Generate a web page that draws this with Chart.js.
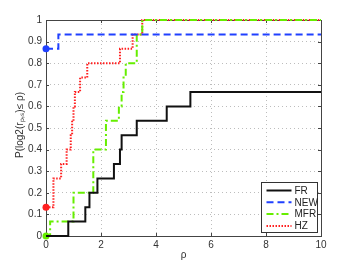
<!DOCTYPE html>
<html>
<head>
<meta charset="utf-8">
<script src="https://cdn.jsdelivr.net/npm/chart.js@4"></script>
<style>
html,body{margin:0;padding:0;background:#fff;}
canvas{display:block;}
</style>
</head>
<body>
<canvas id="c" width="354" height="266"></canvas>
<script>
// ---- data (step starting points: x = rho, y = fraction) ----
const seriesNames = ['FR', 'NEW', 'MFR', 'HZ'];
const frX  = [0, 0.81, 1.43, 1.58, 1.87, 2.47, 2.69, 2.75, 3.30, 4.39, 5.25, 10];
const frY  = [0, 0.0667, 0.1333, 0.2, 0.2667, 0.3333, 0.4, 0.4667, 0.5333, 0.6, 0.6667, 0.6667];
const newX = [0, 0.45, 10];
const newY = [0.8667, 0.9333, 0.9333];
const mfrX = [0, 0.15, 1.0, 1.72, 2.18, 2.65, 2.75, 2.82, 2.90, 3.30, 3.50, 10];
const mfrY = [0, 0.0667, 0.2, 0.4, 0.5333, 0.6, 0.6667, 0.7333, 0.8, 0.9333, 1.0, 1.0];
const hzX  = [0, 0.27, 0.55, 0.75, 0.90, 0.95, 1.00, 1.05, 1.24, 1.50, 2.69, 3.15, 3.50, 10];
const hzY  = [0.1333, 0.2667, 0.3333, 0.4, 0.4667, 0.5333, 0.6, 0.6667, 0.7333, 0.8, 0.8667, 0.9333, 1.0, 1.0];
const xTicks = [0, 2, 4, 6, 8, 10];
const yTicks = [0, 0.1, 0.2, 0.3, 0.4, 0.5, 0.6, 0.7, 0.8, 0.9, 1];
const xTitle = 'ρ';
const yTitle = 'P(log2(rₚ,ₛ)≤ ρ)';

const pts = (xs, ys) => xs.map((x, i) => ({x: x, y: ys[i]}));
const FONT = '"Liberation Sans", Arial, sans-serif';

function ds(label, xs, ys, color, dash, marker) {
  return {
    label: label,
    data: pts(xs, ys),
    borderColor: color,
    backgroundColor: color,
    borderWidth: 2,
    borderDash: dash,
    stepped: 'before',
    fill: false,
    pointRadius: ctx => (marker && ctx.dataIndex === 0) ? 3.5 : 0,
    pointHoverRadius: 0,
    pointBorderWidth: 0,
    pointBackgroundColor: color,
    clip: 4
  };
}

const frame = {
  id: 'frame',
  beforeDatasetsDraw(chart) {
    const {ctx, chartArea: a} = chart;
    const xs = chart.scales.x, ys = chart.scales.y;
    ctx.save();
    ctx.strokeStyle = '#444';
    ctx.lineWidth = 1;
    ctx.strokeRect(Math.round(a.left) + 0.5, Math.round(a.top) + 0.5,
                   Math.round(a.right - a.left), Math.round(a.bottom - a.top));
    ctx.beginPath();
    const L = 3;
    xTicks.forEach(v => {
      const p = Math.round(xs.getPixelForValue(v)) + 0.5;
      ctx.moveTo(p, a.bottom); ctx.lineTo(p, a.bottom - L);
      ctx.moveTo(p, a.top); ctx.lineTo(p, a.top + L);
    });
    yTicks.forEach(v => {
      const p = Math.round(ys.getPixelForValue(v)) + 0.5;
      ctx.moveTo(a.left, p); ctx.lineTo(a.left + L, p);
      ctx.moveTo(a.right, p); ctx.lineTo(a.right - L, p);
    });
    ctx.stroke();
    ctx.restore();
  },
  afterDraw(chart) {
    const {ctx, chartArea: a} = chart;
    ctx.save();
    // axis titles
    ctx.fillStyle = '#333';
    ctx.font = '10px ' + FONT;
    ctx.textAlign = 'center';
    ctx.textBaseline = 'middle';
    ctx.fillText(xTitle, (a.left + a.right) / 2, 255);
    ctx.save();
    ctx.translate(20, (a.top + a.bottom) / 2 - 3);
    ctx.rotate(-Math.PI / 2);
    ctx.fillText(yTitle, 0, 0);
    ctx.restore();
    // legend
    const w = 56, h = 50;
    const lx = Math.round(a.right - 4 - w) + 0.5, ly = Math.round(a.bottom - 4 - h) + 0.5;
    ctx.fillStyle = '#fff';
    ctx.fillRect(lx, ly, w, h);
    ctx.strokeStyle = '#333';
    ctx.lineWidth = 1;
    ctx.strokeRect(lx, ly, w, h);
    chart.data.datasets.forEach((d, i) => {
      const yy = ly + 8 + i * 11.8;
      ctx.save();
      ctx.strokeStyle = d.borderColor;
      ctx.lineWidth = 2;
      ctx.setLineDash(d.borderDash);
      ctx.beginPath();
      ctx.moveTo(lx + 5, yy);
      ctx.lineTo(lx + 30, yy);
      ctx.stroke();
      ctx.restore();
      ctx.fillStyle = '#222';
      ctx.textAlign = 'left';
      ctx.fillText(d.label, lx + 33, yy + 0.5);
    });
    ctx.restore();
  }
};

new Chart(document.getElementById('c'), {
  type: 'line',
  data: {
    datasets: [
      ds(seriesNames[0], frX, frY, '#111111', [], false),
      ds(seriesNames[1], newX, newY, '#2040ff', [7, 4], true),
      ds(seriesNames[2], mfrX, mfrY, '#66ee00', [7, 3, 2, 3], true),
      ds(seriesNames[3], hzX, hzY, '#ff2020', [1.5, 1.5], true)
    ]
  },
  options: {
    responsive: false,
    devicePixelRatio: 1,
    animation: false,
    events: [],
    layout: {padding: {top: 20, right: 33, left: 0, bottom: 0}},
    plugins: {legend: {display: false}, tooltip: {enabled: false}, title: {display: false}},
    scales: {
      x: {
        type: 'linear', min: 0, max: 10,
        afterFit: s => { s.height = 30; },
        afterBuildTicks: s => { s.ticks = xTicks.map(v => ({value: v})); },
        ticks: {color: '#333', font: {family: FONT, size: 10}, padding: 3, maxRotation: 0,
                callback: v => String(v)},
        grid: {color: '#bdbdbd', lineWidth: 1, drawTicks: false},
        border: {display: false, dash: [1, 3]}
      },
      y: {
        type: 'linear', min: 0, max: 1,
        afterFit: s => { s.width = 46; },
        afterBuildTicks: s => { s.ticks = yTicks.map(v => ({value: v})); },
        ticks: {color: '#333', font: {family: FONT, size: 10}, padding: 4,
                callback: v => String(Math.round(v * 10) / 10)},
        grid: {color: '#bdbdbd', lineWidth: 1, drawTicks: false},
        border: {display: false, dash: [1, 3]}
      }
    }
  },
  plugins: [frame]
});
</script>
</body>
</html>
